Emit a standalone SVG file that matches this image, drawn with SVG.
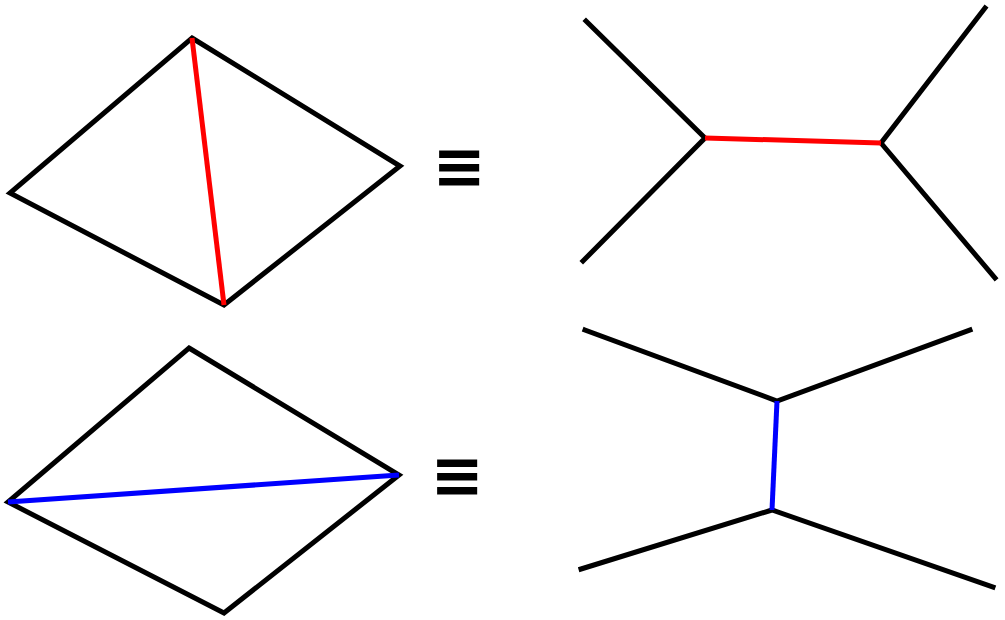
<svg xmlns="http://www.w3.org/2000/svg" width="1005" height="620" viewBox="0 0 1005 620">
<style>
.e{stroke:#000;stroke-width:5;fill:none;stroke-linecap:square;stroke-linejoin:miter}
.r{stroke:#ff0000;stroke-width:5;fill:none}
.b{stroke:#0000ff;stroke-width:5;fill:none}
.eq{font-family:"DejaVu Sans",sans-serif;font-weight:bold;font-size:64px;fill:#000}
</style>
<rect width="1005" height="620" fill="#fff"/>
<g id="quad-top">
<polygon class="e" points="192,38 400,166 224,305 10,193"/>
</g>
<g id="equiv-top"><text class="eq" x="459" y="188" text-anchor="middle">≡</text></g>
<g id="tree-top">
<polyline class="e" points="586,21 705,138 583,261"/>
<polyline class="e" points="985,8 881,143 995,278"/>
</g>
<g id="quad-bottom">
<polygon class="e" points="189,348 399,475 224,613 8,502"/>
</g>
<g id="equiv-bottom"><text class="eq" x="457" y="497" text-anchor="middle">≡</text></g>
<g id="tree-bottom">
<polyline class="e" points="585,330 777,401 970,330"/>
<polyline class="e" points="581,569 772,510 993,587"/>
</g>
<g id="connectors">
<line class="r" x1="192" y1="38" x2="224" y2="305"/>
<line class="r" x1="705" y1="138" x2="881" y2="143"/>
<line class="b" x1="8" y1="502" x2="399" y2="475"/>
<line class="b" x1="777" y1="401" x2="772" y2="510"/>
</g>
</svg>
